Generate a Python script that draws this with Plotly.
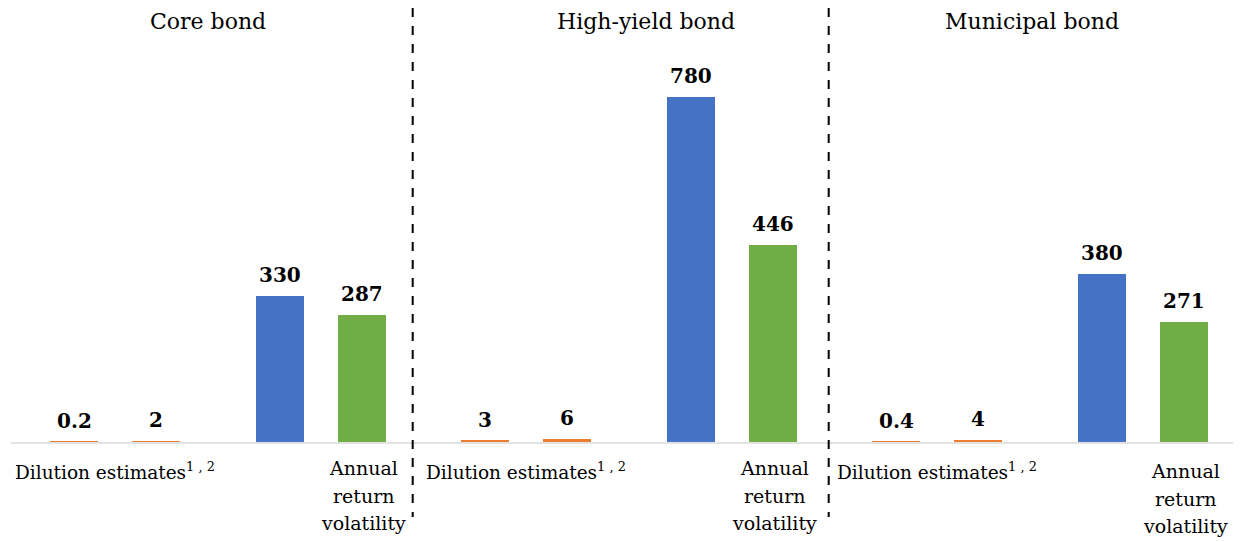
import plotly.graph_objects as go

# ---- data ----
groups = ["Core bond", "High-yield bond", "Municipal bond"]
dilution_low = [0.2, 3, 0.4]
dilution_high = [2, 6, 4]
blue_series = [330, 780, 380]
volatility = [287, 446, 271]
value_labels_low = ["0.2", "3", "0.4"]
value_labels_high = ["2", "6", "4"]
value_labels_blue = ["330", "780", "380"]
value_labels_vol = ["287", "446", "271"]
cat_label_dilution = "Dilution estimates<sup>1 , 2</sup>"
cat_label_vol_lines = ["Annual", "return", "volatility"]

# ---- layout helpers (page pixels; the page body has an 8px margin) ----
PAGE_W, PAGE_H = 1241, 542
OFF = 8
W, H = PAGE_W - 2 * OFF, PAGE_H - OFF
BASE_PAGE_Y = 442
plot_h = BASE_PAGE_Y - OFF

def px_x(p):
    return (p - OFF) / W

def px_y(p):
    return (BASE_PAGE_Y - p) / plot_h

period = 5.0
offsets = [0.0, 1.0, 2.5, 3.5]
unit_px = 82.2
first_bar_page_x = 74.0
x0 = -(first_bar_page_x - OFF) / unit_px
x_range = [x0, x0 + W / unit_px]
bar_w = 48 / unit_px
px_per_val = 0.442
y_max = plot_h / px_per_val

ORANGE = "#ED7D31"
BLUE = "#4472C4"
GREEN = "#70AD47"
FONT = "DejaVu Serif"

series = [
    (dilution_low, value_labels_low, ORANGE),
    (dilution_high, value_labels_high, ORANGE),
    (blue_series, value_labels_blue, BLUE),
    (volatility, value_labels_vol, GREEN),
]

fig = go.Figure()
annotations = []
for k, (vals, labs, col) in enumerate(series):
    xs = [g * period + offsets[k] for g in range(len(groups))]
    fig.add_trace(go.Bar(x=xs, y=vals, width=bar_w, marker_color=col,
                         marker_line_width=0, showlegend=False, hoverinfo="y"))
    for xv, yv, t in zip(xs, vals, labs):
        annotations.append(dict(x=xv, y=yv, xref="x", yref="y", text=f"<b>{t}</b>",
                                showarrow=False, yanchor="middle", xanchor="center", yshift=21,
                                font=dict(family=FONT, size=20, color="black")))

vol_line_y = [468, 496, 523]
for g, name in enumerate(groups):
    base = g * period
    annotations.append(dict(x=base + (offsets[0] + offsets[1]) / 2, y=px_y(471),
                            xref="x", yref="paper", text=cat_label_dilution, showarrow=False,
                            yanchor="middle", xanchor="center",
                            font=dict(family=FONT, size=18.5, color="black")))
    for line, ly in zip(cat_label_vol_lines, vol_line_y):
        annotations.append(dict(x=base + offsets[3], y=px_y(ly + (3 if g == 2 else 0)),
                                xref="x", yref="paper", text=line, showarrow=False,
                                yanchor="middle", xanchor="center", xshift=2,
                                font=dict(family=FONT, size=19, color="black")))

title_px = [208, 646, 1032]
for name, px in zip(groups, title_px):
    annotations.append(dict(x=px_x(px), y=px_y(21), xref="paper", yref="paper",
                            text=name, showarrow=False, yanchor="middle", xanchor="center",
                            font=dict(family=FONT, size=22, color="black")))

shapes = [
    dict(type="line", xref="paper", yref="paper", x0=px_x(11), x1=1,
         y0=px_y(443), y1=px_y(443),
         line=dict(color="#D9D9D9", width=1.6), layer="below"),
]
for sx in [412.7, 828.7]:
    shapes.append(dict(type="line", xref="paper", yref="paper", x0=px_x(sx), x1=px_x(sx),
                       y0=px_y(8), y1=px_y(517),
                       line=dict(color="black", width=2, dash="dash")))

fig.update_layout(
    width=W, height=H,
    margin=dict(l=0, r=0, t=0, b=H - plot_h),
    plot_bgcolor="white", paper_bgcolor="white",
    font=dict(family=FONT),
    xaxis=dict(range=x_range, visible=False, fixedrange=True),
    yaxis=dict(range=[0, y_max], visible=False, fixedrange=True),
    annotations=annotations, shapes=shapes, bargap=0,
)
fig.write_html("out.html",
               post_script="document.documentElement.style.overflow='hidden';"
                           "document.body.style.overflow='hidden';")
